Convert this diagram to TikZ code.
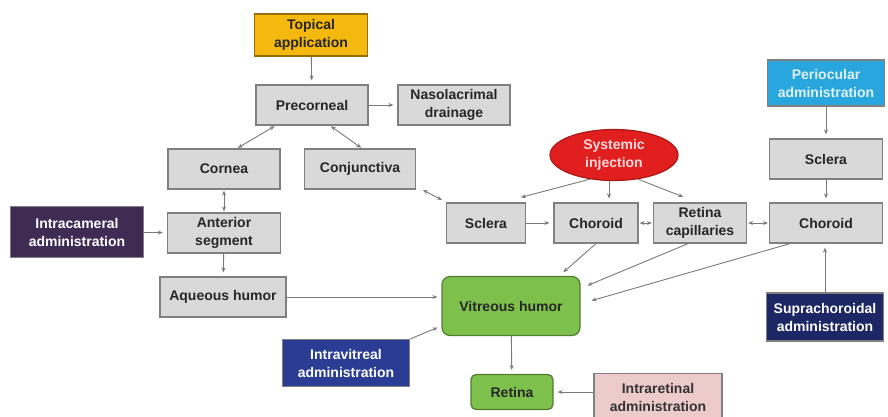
\documentclass[tikz,border=0pt]{standalone}
\usepackage{fontspec}
\setmainfont{Liberation Sans}
\usetikzlibrary{shapes.geometric,arrows.meta}

\definecolor{boxfill}{HTML}{D9D9D9}
\definecolor{boxline}{HTML}{808080}
\definecolor{arrowgray}{HTML}{7A7A7A}
\definecolor{topical}{HTML}{F5B80E}
\definecolor{periocular}{HTML}{2AA6DE}
\definecolor{intracam}{HTML}{3E2C55}
\definecolor{intravit}{HTML}{2B3C95}
\definecolor{suprach}{HTML}{1E2766}
\definecolor{intraret}{HTML}{EDCBCB}
\definecolor{systemic}{HTML}{E11F1F}
\definecolor{vitreous}{HTML}{7DC14C}

\begin{document}
\begin{tikzpicture}[x=1pt,y=-1pt,
    font=\fontsize{14}{18}\selectfont\bfseries,
    box/.style={draw=boxline, line width=1.2pt, fill=boxfill, align=center,
        inner sep=0pt, text=black!85},
    adminbox/.style={box, text=white},
    eyebox/.style={box, draw=vitreous!65!black, fill=vitreous, rounded corners=8pt},
    link/.style={draw=arrowgray, line width=0.9pt, shorten >=4pt,
        -{Stealth[length=5pt,width=4pt]}},
    twoway/.style={link, shorten >=1pt, shorten <=1pt,
        {Stealth[length=5pt,width=4pt]}-{Stealth[length=5pt,width=4pt]}}]
    \useasboundingbox (0,0) rectangle (888,416);

    % front of the eye
    \node[box, fill=topical, draw=topical!60!black, minimum width=113pt, minimum height=42pt]
        (topical) at (311,35) {Topical\\application};
    \node[box, minimum width=112pt, minimum height=40pt] (precorneal) at (312,105) {Precorneal};
    \node[box, minimum width=112pt, minimum height=40pt] (nasolacrimal) at (454,105) {Nasolacrimal\\drainage};
    \node[box, minimum width=112pt, minimum height=40pt] (cornea) at (224,169) {Cornea};
    \node[box, minimum width=111pt, minimum height=40pt] (conjunctiva) at (360,169) {Conjunctiva};
    \node[adminbox, fill=intracam, minimum width=133pt, minimum height=51pt]
        (intracameral) at (77,232) {Intracameral\\administration};
    \node[box, minimum width=113pt, minimum height=40pt] (anterior) at (224,233) {Anterior\\segment};
    \node[box, minimum width=126pt, minimum height=40pt] (aqueous) at (223,297) {Aqueous humor};

    % back of the eye
    \node[ellipse, draw=systemic!75!black, line width=1.2pt, fill=systemic, text=red!15,
        minimum width=128pt, minimum height=51pt, inner sep=0pt, align=center]
        (systemic) at (614,155) {Systemic\\injection};
    \node[box, minimum width=79pt, minimum height=40pt] (sclera) at (486,223) {Sclera};
    \node[box, minimum width=84pt, minimum height=40pt] (choroid) at (596,223) {Choroid};
    \node[box, minimum width=93pt, minimum height=40pt] (retcap) at (700,223) {Retina\\capillaries};
    \node[adminbox, fill=periocular, text=white!85!periocular, minimum width=117pt, minimum height=46pt]
        (periocular) at (826,83) {Periocular\\administration};
    \node[box, minimum width=113pt, minimum height=40pt] (scleraR) at (826,159) {Sclera};
    \node[box, minimum width=113pt, minimum height=40pt] (choroidR) at (826,223) {Choroid};
    \node[adminbox, fill=suprach, minimum width=117pt, minimum height=48pt]
        (suprachoroidal) at (825,317) {Suprachoroidal\\administration};

    \node[eyebox, minimum width=138pt, minimum height=59pt] (vitreous) at (511,306) {Vitreous humor};
    \node[eyebox, rounded corners=5pt, minimum width=82pt, minimum height=35pt] (retina) at (512,392) {Retina};
    \node[adminbox, fill=intravit, minimum width=127pt, minimum height=47pt]
        (intravitreal) at (346,363) {Intravitreal\\administration};
    \node[box, fill=intraret, text=black!80, minimum width=128pt, minimum height=47pt]
        (intraretinal) at (658,397) {Intraretinal\\administration};

    % connectors
    \draw[link] (topical) -- (precorneal);
    \draw[link] (precorneal) -- (nasolacrimal);
    \draw[twoway] ([xshift=20pt]precorneal.south west) -- ([xshift=13pt]cornea.north);
    \draw[twoway] ([xshift=18pt]precorneal.south) -- ([xshift=2pt]conjunctiva.north);
    \draw[twoway] (cornea) -- (anterior);
    \draw[twoway] ([xshift=6pt]conjunctiva.south east) -- ([xshift=-3pt,yshift=2pt]sclera.north west);
    \draw[link] (intracameral) -- (anterior);
    \draw[link] (anterior) -- (aqueous);
    \draw[link] (aqueous.east) -- (aqueous.east -| vitreous.west);
    \draw[link] (intravitreal.north east) -- ([yshift=-20pt]vitreous.west);

    \draw[link] (systemic.225) -- ([xshift=-9pt,yshift=4pt]sclera.north east);
    \draw[link] ([xshift=-5pt]systemic.south) -- ([xshift=13pt]choroid.north);
    \draw[link] (systemic.-45) -- ([xshift=-13pt,yshift=4pt]retcap.north);
    \draw[link] (sclera) -- (choroid);
    \draw[twoway] (choroid) -- (retcap);
    \draw[twoway] (retcap) -- (choroidR);
    \draw[link] (periocular) -- (scleraR);
    \draw[link] (scleraR) -- (choroidR);
    \draw[link] (suprachoroidal.north) -- (suprachoroidal.north |- choroidR.south);

    \draw[link, shorten >=1pt] (choroid.south) -- ([xshift=-18pt,yshift=3pt]vitreous.north east);
    \draw[link, shorten >=1pt] ([xshift=-12pt]retcap.south) -- ([xshift=6pt,yshift=-10pt]vitreous.north east);
    \draw[link, shorten >=1pt] ([xshift=-36pt]choroidR.south) -- ([xshift=10pt,yshift=-25pt]vitreous.north east);
    \draw[link] (vitreous) -- (retina);
    \draw[link] (intraretinal.west |- retina) -- (retina.east);
\end{tikzpicture}
\end{document}
